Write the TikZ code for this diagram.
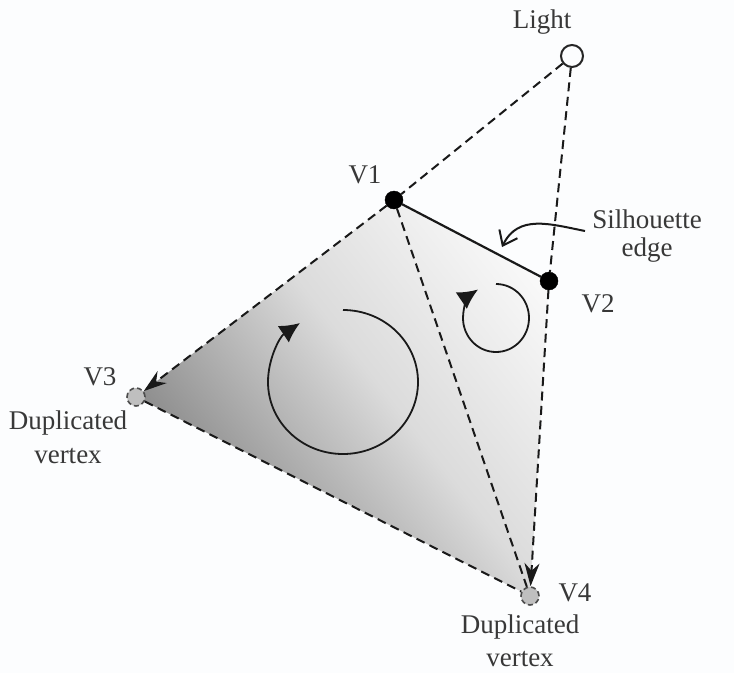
\documentclass[tikz,border=0pt]{standalone}
\usepackage{fontspec}
\setmainfont{Liberation Serif}
\usetikzlibrary{arrows.meta}
\definecolor{paper}{HTML}{FCFDFE}
\pgfdeclarehorizontalshading{facegrad}{900bp}{color(0bp)=(black!45); color(198bp)=(black!14); color(396bp)=(black!2)}
\tikzset{
  lbl/.style={inner sep=0pt,text=black!78,font=\fontsize{27}{32}\selectfont,align=center},
  blackdot/.style={circle,fill=black,draw=black,inner sep=0pt,minimum size=18pt},
  dupvertex/.style={circle,fill=black!25,draw=black!70,line width=1.6pt,dash pattern=on 5pt off 3pt,inner sep=0pt,minimum size=18pt},
  lightdot/.style={circle,fill=paper,draw=black!85,line width=2pt,inner sep=0pt,minimum size=22pt},
  dash line/.style={draw=black!90,line width=2pt,dash pattern=on 9pt off 5.5pt},
  turn/.style={draw=black!90,line width=1.8pt,-{Latex[length=20pt,width=20pt]}},
  dir tip/.style={-{Stealth[length=23pt,width=15pt]}},
}
\begin{document}
\begin{tikzpicture}[x=1pt,y=-1pt]
\useasboundingbox (0,0) rectangle (734,673);
\fill[paper] (0,0) rectangle (734,673);
\begin{scope}
  \clip (394,200) -- (549,281) -- (530,596) -- (136,397) -- cycle;
  \node[inner sep=0pt,outer sep=0pt,anchor=west,rotate=38] (face) at (214.7,498) {\pgfuseshading{facegrad}};
\end{scope}
\node[lightdot] (light) at (572,56) {};
\node[blackdot] (v1) at (394,200) {};
\node[blackdot] (v2) at (549,281) {};
\node[dupvertex] (v3) at (136,397) {};
\node[dupvertex] (v4) at (530,596) {};
\draw[dash line] (light) -- (v1);
\draw[dash line] (light) -- (v2);
\draw[draw=black!90,line width=2.2pt] (v1) -- (v2);
\draw[dash line] (v1) -- (v4);
\draw[dash line] (v3) -- (v4);
\draw[dash line,dir tip] (v1) -- (v3);
\draw[dash line,dir tip] (v2) -- (v4);
\node[lbl] (tlight) at (542,22) {Light};
\node[lbl] (tv1) at (365,175) {V1};
\node[lbl] (tv2) at (598,304) {V2};
\node[lbl] (tv3) at (100,377) {V3};
\node[lbl] (tv4) at (575,593) {V4};
\node[lbl] (tdup3) at (68,423) {Duplicated};
\node[lbl] (tver3) at (68,456) {vertex};
\node[lbl] (tdup4) at (520,627) {Duplicated};
\node[lbl] (tver4) at (520,659) {vertex};
\node[lbl] (tsil) at (647,219) {Silhouette};
\node[lbl] (tedge) at (647,250) {edge};
\coordinate (silstart) at (585,231);
\coordinate (siltip) at (502,247);
\draw[draw=black!90,line width=2pt,-{Straight Barb[length=13pt,width=20pt]}]
  (silstart) .. controls (550,224) and (518,214) .. (siltip);
\draw[turn] (343,310) arc[start angle=-90,end angle=235,x radius=75,y radius=72];
\draw[turn] (496,284) arc[start angle=-90,end angle=237,x radius=33,y radius=34];
\end{tikzpicture}
\end{document}
